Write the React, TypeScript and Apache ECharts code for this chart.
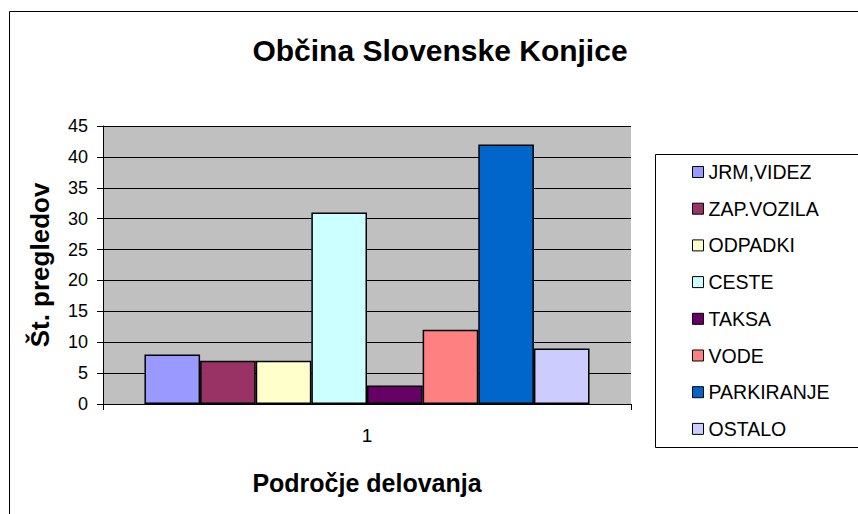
import React, { useEffect, useRef } from "react";
import * as echarts from "echarts";

const categories = ["1"];
const seriesNames = ["JRM,VIDEZ", "ZAP.VOZILA", "ODPADKI", "CESTE", "TAKSA", "VODE", "PARKIRANJE", "OSTALO"];
const seriesValues = [8, 7, 7, 31, 3, 12, 42, 9];
const seriesColors = ["#9999FF", "#993366", "#FFFFCC", "#CCFFFF", "#660066", "#FF8080", "#0066CC", "#CCCCFF"];
const yTicks = { min: 0, max: 45, interval: 5 };

const FONT = "'Liberation Sans', Arial, sans-serif";

export default function App() {
  const ref = useRef<HTMLDivElement>(null);
  useEffect(() => {
    if (!ref.current) return;
    const chart = echarts.init(ref.current, null, { renderer: "svg" });
    chart.setOption({
      animation: false,
      backgroundColor: "#ffffff",
      textStyle: { fontFamily: FONT },
      title: {
        text: "Občina Slovenske Konjice",
        left: 440,
        top: 35,
        textAlign: "center",
        padding: 0,
        textStyle: { fontFamily: FONT, fontSize: 30, fontWeight: "bold", color: "#000", lineHeight: 30 },
      },
      legend: {
        orient: "vertical",
        left: 692,
        top: 162,
        padding: 0,
        itemWidth: 11,
        itemHeight: 11,
        itemGap: 16.7,
        icon: "rect",
        itemStyle: { borderColor: "#000", borderWidth: 1 },
        textStyle: { fontFamily: FONT, fontSize: 19.5, color: "#000", lineHeight: 20, padding: [0, 0, 0, 0] },
        data: seriesNames,
      },
      grid: {
        left: 103,
        top: 126,
        width: 528,
        height: 278,
        show: true,
        backgroundColor: "#C0C0C0",
        borderWidth: 0,
      },
      xAxis: {
        type: "category",
        data: categories,
        name: "Področje delovanja",
        nameLocation: "middle",
        nameGap: 66,
        nameTextStyle: { fontFamily: FONT, fontSize: 25, fontWeight: "bold", color: "#000" },
        axisLine: { show: true, lineStyle: { color: "#000", width: 1 } },
        axisTick: { show: true, length: 6, alignWithLabel: false, lineStyle: { color: "#000" } },
        axisLabel: { fontFamily: FONT, fontSize: 19, color: "#000", margin: 22 },
      },
      yAxis: {
        type: "value",
        min: yTicks.min,
        max: yTicks.max,
        interval: yTicks.interval,
        name: "Št. pregledov",
        nameLocation: "middle",
        nameGap: 50,
        nameTextStyle: { fontFamily: FONT, fontSize: 26, fontWeight: "bold", color: "#000" },
        axisLine: { show: true, lineStyle: { color: "#000", width: 1 } },
        axisTick: { show: true, length: 6, inside: false, lineStyle: { color: "#000" } },
        axisLabel: { fontFamily: FONT, fontSize: 18, color: "#000", margin: 15 },
        splitLine: { show: true, lineStyle: { color: "#000", width: 1 } },
      },
      graphic: [
        {
          type: "rect",
          shape: { x: 9.5, y: 11.5, width: 900, height: 600 },
          style: { fill: "none", stroke: "#000", lineWidth: 1 },
          silent: true,
          z: 0,
        },
        {
          type: "rect",
          shape: { x: 655.5, y: 154.5, width: 300, height: 293 },
          style: { fill: "none", stroke: "#000", lineWidth: 1 },
          silent: true,
          z: 0,
        },
      ],
      series: seriesNames.map((name, i) => ({
        name,
        type: "bar",
        data: [seriesValues[i]],
        barGap: "0%",
        barCategoryGap: "15.7%",
        itemStyle: { color: seriesColors[i], borderColor: "#000", borderWidth: 1.5 },
      })),
    });
    return () => chart.dispose();
  }, []);
  return <div ref={ref} style={{ position: "fixed", left: 0, top: 0, width: 858, height: 514 }} />;
}
